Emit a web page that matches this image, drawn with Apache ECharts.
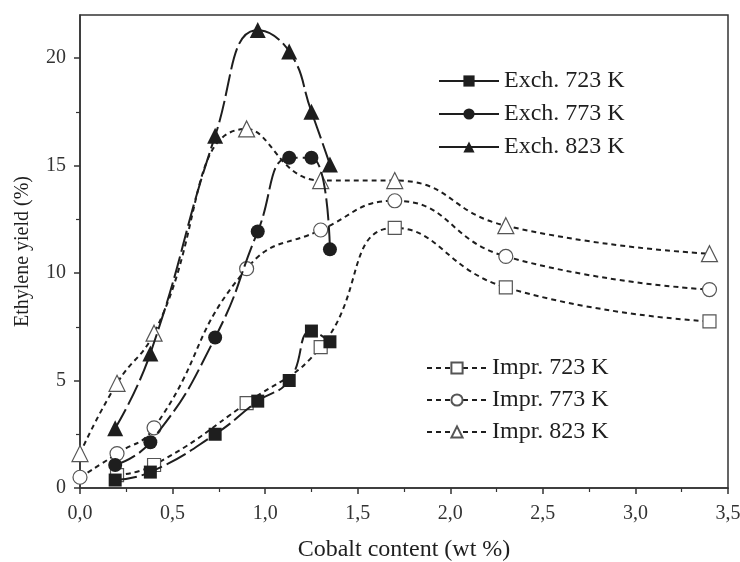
<!DOCTYPE html>
<html>
<head>
<meta charset="utf-8">
<script src="https://cdn.jsdelivr.net/npm/echarts@6/dist/echarts.min.js"></script>
<style>
  html, body { margin: 0; padding: 0; background: #fff; }
  #chart { width: 740px; height: 562px; }
</style>
</head>
<body>
<div id="chart"></div>
<script>
// cobalt content (wt %)
var exchX = [0.19, 0.38, 0.73, 0.96, 1.13, 1.25, 1.35];
var imprX = [0, 0.2, 0.4, 0.9, 1.3, 1.7, 2.3, 3.4];

// ethylene yield (%)
var exch723 = [0.37, 0.74, 2.5, 4.04, 5.0, 7.3, 6.8];
var exch773 = [1.07, 2.13, 7.0, 11.93, 15.36, 15.36, 11.1];
var exch823 = [2.78, 6.26, 16.38, 21.3, 20.3, 17.5, 15.05];
var impr723 = [null, 0.6, 1.07, 3.95, 6.55, 12.1, 9.33, 7.75];
var impr773 = [0.5, 1.6, 2.8, 10.2, 12.0, 13.36, 10.77, 9.23];
var impr823 = [1.6, 4.87, 7.2, 16.7, 14.3, 14.3, 12.2, 10.9];

// y ticks
var yMajorTicks = [0, 5, 10, 15, 20];
var yMinorTicks = [2.5, 7.5, 12.5, 17.5];

var ink = '#1e1e1e';
var grey = '#555';
var font = 'Liberation Serif';

function pairs(xs, ys) {
    var out = [];
    for (var i = 0; i < xs.length; i++) {
        if (ys[i] != null) out.push([xs[i], ys[i]]);
    }
    return out;
}

function exch(name, xs, ys, symbol, size) {
    return {
        name: name, type: 'line', smooth: 0.5,
        data: pairs(xs, ys),
        symbol: symbol, symbolSize: size,
        itemStyle: { color: ink, borderWidth: 0 },
        lineStyle: { color: ink, width: 2, type: [22, 5] },
        z: 3
    };
}

function impr(name, xs, ys, symbol, size) {
    return {
        name: name, type: 'line', smooth: 0.5,
        data: pairs(xs, ys),
        symbol: symbol, symbolSize: size,
        itemStyle: { color: '#fff', borderColor: grey, borderWidth: 1.2 },
        lineStyle: { color: ink, width: 2, type: [5, 4] },
        z: 2
    };
}

var legendText = { fontFamily: font, fontSize: 24, color: ink };

var myChart = echarts.init(document.getElementById('chart'));

var option = {
    backgroundColor: '#fff',
    animation: false,
    grid: {
        left: 80, right: 12, top: 15, bottom: 74,
        outerBoundsMode: 'none',
        show: true, borderColor: '#333', borderWidth: 1.5
    },
    legend: [
        {
            data: ['Exch. 723 K', 'Exch. 773 K', 'Exch. 823 K'],
            orient: 'vertical', left: 438, top: 69, padding: 0,
            itemWidth: 60, itemHeight: 14, itemGap: 9,
            lineStyle: { type: 'solid' },
            textStyle: legendText
        },
        {
            data: ['Impr. 723 K', 'Impr. 773 K', 'Impr. 823 K'],
            orient: 'vertical', left: 426, top: 356, padding: 0,
            itemWidth: 60, itemHeight: 14, itemGap: 8,
            textStyle: legendText
        }
    ],
    xAxis: {
        type: 'value', min: 0, max: 3.5, interval: 0.5,
        name: 'Cobalt content (wt %)', nameLocation: 'middle', nameGap: 50,
        nameTextStyle: { fontFamily: font, fontSize: 24, color: ink },
        axisLine: { lineStyle: { color: '#333', width: 1.5 } },
        axisTick: { length: 6, lineStyle: { color: '#333', width: 1.5 } },
        minorTick: { show: true, splitNumber: 2, length: 4, lineStyle: { color: '#333', width: 1.2 } },
        splitLine: { show: false },
        axisLabel: {
            margin: 16, fontFamily: font, fontSize: 20, color: '#333',
            formatter: function (v) { return v.toFixed(1).replace('.', ','); }
        }
    },
    yAxis: [
        {
            type: 'value', min: 0, max: 22, interval: 5,
            name: 'Ethylene yield (%)', nameLocation: 'middle', nameGap: 47,
            nameTextStyle: { fontFamily: font, fontSize: 20, color: ink },
            axisLine: { show: true, lineStyle: { color: '#333', width: 1.5 } },
            axisTick: { show: true, length: 6, customValues: yMajorTicks,
                        lineStyle: { color: '#333', width: 1.5 } },
            splitLine: { show: false },
            axisLabel: {
                margin: 14, fontFamily: font, fontSize: 20, color: '#333',
                customValues: yMajorTicks
            }
        },
        {
            type: 'value', min: 0, max: 22, position: 'left',
            axisLine: { show: false },
            axisTick: { show: true, length: 4, customValues: yMinorTicks,
                        lineStyle: { color: '#333', width: 1.2 } },
            axisLabel: { show: false },
            splitLine: { show: false }
        }
    ],
    series: [
        exch('Exch. 723 K', exchX, exch723, 'rect', 13),
        exch('Exch. 773 K', exchX, exch773, 'circle', 14),
        exch('Exch. 823 K', exchX, exch823, 'triangle', 16),
        impr('Impr. 723 K', imprX, impr723, 'rect', 13),
        impr('Impr. 773 K', imprX, impr773, 'circle', 14),
        impr('Impr. 823 K', imprX, impr823, 'triangle', 16)
    ]
};

myChart.setOption(option);
</script>
</body>
</html>
